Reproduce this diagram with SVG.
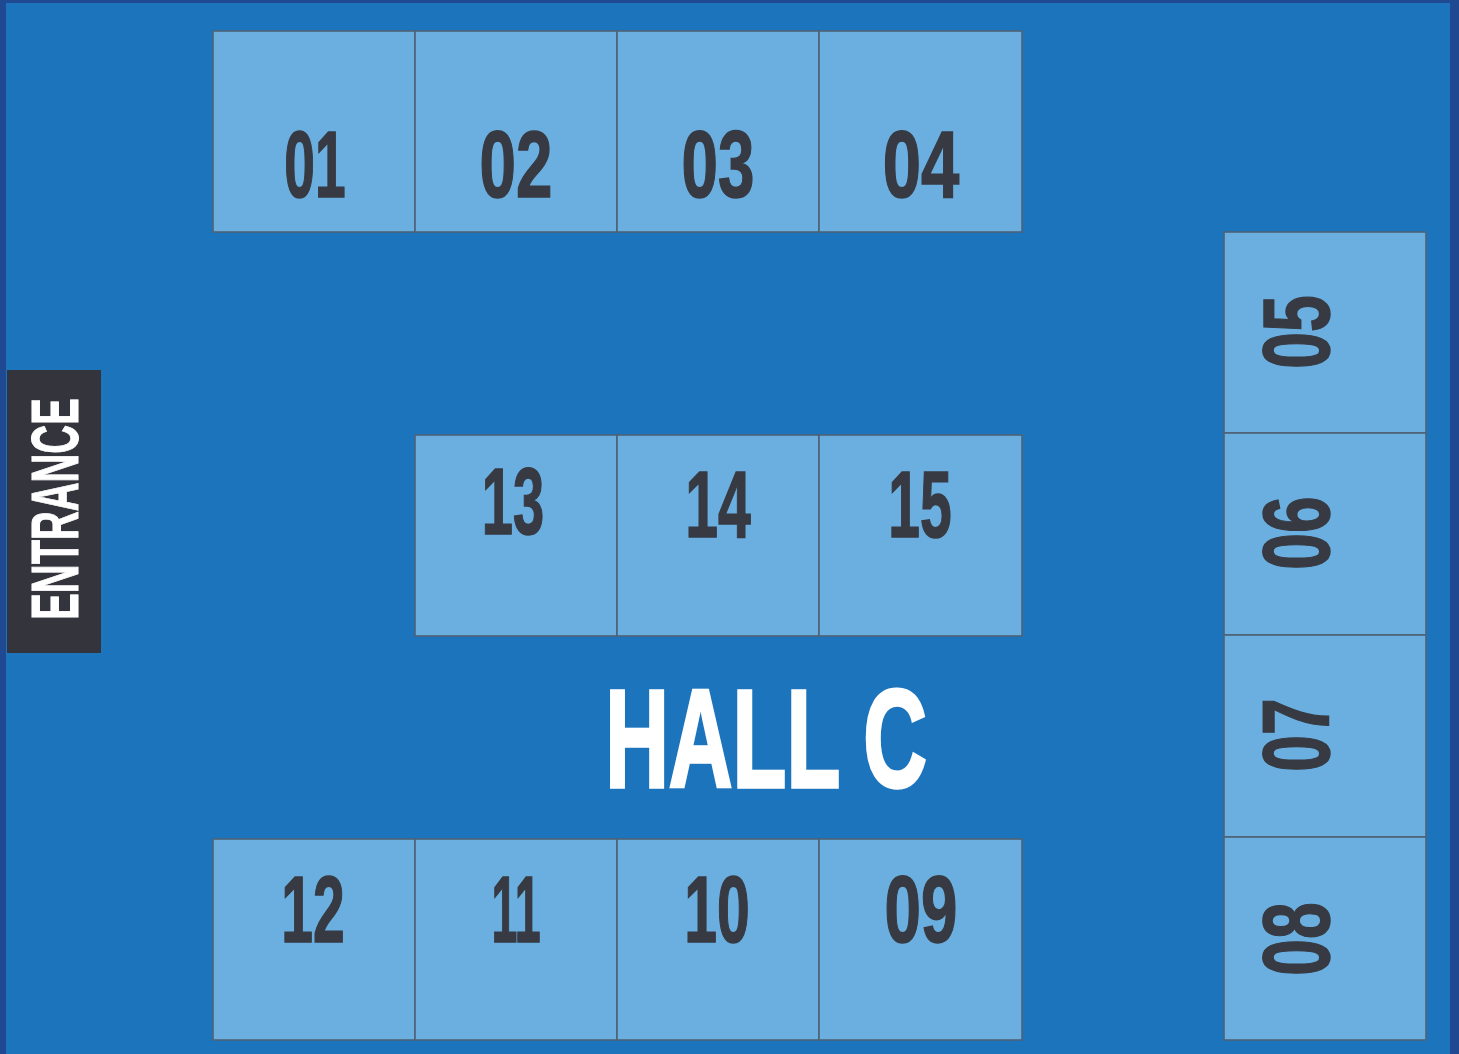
<svg xmlns="http://www.w3.org/2000/svg" width="1459" height="1054" viewBox="0 0 1459 1054">
<style>
.b{fill:#6aafe0;stroke:#4f6276;stroke-width:1.6}
.n{font-family:"Liberation Sans Narrow","Liberation Sans",sans-serif;font-weight:700;font-size:95px;fill:#373a42;stroke:#373a42;stroke-width:1.5;text-anchor:middle}
.h{font-family:"Liberation Sans Narrow","Liberation Sans",sans-serif;font-weight:700;fill:#fff;stroke:#fff;text-anchor:middle}
</style>
<rect width="1459" height="1054" fill="#1f4a92"/>
<rect x="6" y="3" width="1444" height="1051" fill="#1c74bc"/>
<g id="entrance"><rect x="7" y="370" width="94" height="283" fill="#33343c"/><text class="h" stroke-width="1" transform="translate(78,509) rotate(-90) scale(.604,1)" font-size="66">ENTRANCE</text></g>
<g id="s01"><rect class="b" x="213" y="31" width="202" height="201"/><text class="n" transform="translate(315,197) scale(.58,1)">01</text></g>
<g id="s02"><rect class="b" x="415" y="31" width="202" height="201"/><text class="n" transform="translate(516,197) scale(.69,1)">02</text></g>
<g id="s03"><rect class="b" x="617" y="31" width="202" height="201"/><text class="n" transform="translate(718,197) scale(.69,1)">03</text></g>
<g id="s04"><rect class="b" x="819" y="31" width="203" height="201"/><text class="n" transform="translate(921,197) scale(.725,1)">04</text></g>
<g id="s05"><rect class="b" x="1224" y="232" width="202" height="201"/><text class="n" transform="translate(1329,332) rotate(-90) scale(.695,1)">05</text></g>
<g id="s06"><rect class="b" x="1224" y="433" width="202" height="202"/><text class="n" transform="translate(1329,533) rotate(-90) scale(.695,1)">06</text></g>
<g id="s07"><rect class="b" x="1224" y="635" width="202" height="202"/><text class="n" transform="translate(1329,735) rotate(-90) scale(.695,1)">07</text></g>
<g id="s08"><rect class="b" x="1224" y="837" width="202" height="203"/><text class="n" transform="translate(1329,939) rotate(-90) scale(.695,1)">08</text></g>
<g id="s13"><rect class="b" x="415" y="435" width="202" height="201"/><text class="n" transform="translate(513,534) scale(.59,1)">13</text></g>
<g id="s14"><rect class="b" x="617" y="435" width="202" height="201"/><text class="n" transform="translate(718,537) scale(.62,1)">14</text></g>
<g id="s15"><rect class="b" x="819" y="435" width="203" height="201"/><text class="n" transform="translate(920,537) scale(.6,1)">15</text></g>
<g id="s12"><rect class="b" x="213" y="839" width="202" height="201"/><text class="n" transform="translate(313,942) scale(.6,1)">12</text></g>
<g id="s11"><rect class="b" x="415" y="839" width="202" height="201"/><text class="n" transform="translate(516,942) scale(.49,1)">11</text></g>
<g id="s10"><rect class="b" x="617" y="839" width="202" height="201"/><text class="n" transform="translate(717,942) scale(.62,1)">10</text></g>
<g id="s09"><rect class="b" x="819" y="839" width="203" height="201"/><text class="n" transform="translate(921,942) scale(.69,1)">09</text></g>
<text id="hall" class="h" stroke-width="3.5" transform="translate(766,787) scale(.63,1)" font-size="140">HALL C</text>
</svg>
